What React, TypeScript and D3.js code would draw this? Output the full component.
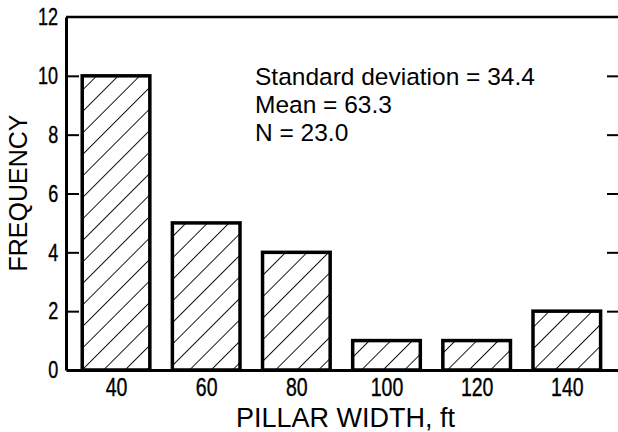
import { useEffect, useRef } from 'react';
import { scaleLinear, select, axisLeft, axisRight, axisBottom, range } from 'd3';

const widths = [40, 60, 80, 100, 120, 140];
const frequency = [10, 5, 4, 1, 1, 2];
const yTicks = [0, 2, 4, 6, 8, 10, 12];
const statLines = ['Standard deviation = 34.4', 'Mean = 63.3', 'N = 23.0'];

const W = 618;
const H = 432;
const left = 66;
const right = 620;
const top = 17;
const bottom = 370;
const binWidth = 15;

const sans = '"Liberation Sans", Arial, Helvetica, sans-serif';

export default function App() {
  const gLeft = useRef<SVGGElement>(null);
  const gRight = useRef<SVGGElement>(null);
  const gBottom = useRef<SVGGElement>(null);

  const x = scaleLinear().domain([28.9, 151.8]).range([left, right]);
  const y = scaleLinear().domain([0, 12]).range([bottom, top]);

  useEffect(() => {
    // tick digits in the original are tall and condensed, so squeeze them
    const l = select(gLeft.current!);
    l.call(axisLeft(y).tickValues(yTicks).tickSize(-13).tickPadding(0).tickSizeOuter(0));
    l.select('.domain').attr('stroke-width', 3);
    l.selectAll('.tick line').attr('stroke-width', 2);
    l.selectAll('.tick text')
      .attr('font-family', sans)
      .attr('font-size', 24)
      .attr('fill', '#000')
      .attr('stroke', '#000')
      .attr('stroke-width', 0.4)
      .attr('x', -10.5)
      .attr('transform', 'scale(0.75,1)');
    l.selectAll('.tick').filter((d: any) => d === 0 || d === 12).select('line').remove();

    const r = select(gRight.current!);
    r.call(axisRight(y).tickValues(range(2, 12, 2)).tickSize(-13).tickSizeOuter(0).tickFormat(() => ''));
    r.select('.domain').attr('stroke-width', 3);
    r.selectAll('.tick line').attr('stroke-width', 2);

    const b = select(gBottom.current!);
    b.call(axisBottom(x).tickValues(widths).tickSize(0).tickPadding(8).tickSizeOuter(0));
    b.select('.domain').attr('stroke-width', 3);
    b.selectAll('.tick text')
      .attr('font-family', sans)
      .attr('font-size', 26)
      .attr('fill', '#000')
      .attr('stroke', '#000')
      .attr('stroke-width', 0.4)
      .attr('transform', 'scale(0.75,1)');
  });

  return (
    <svg width={W} height={H} style={{ position: 'absolute', left: 0, top: 0, background: '#fff' }}>
      <defs>
        <pattern id="hatch" patternUnits="userSpaceOnUse" width={15.2} height={15.2} patternTransform="rotate(45)">
          <line x1={0} y1={-2} x2={0} y2={18} stroke="#000" strokeWidth={1.8} />
        </pattern>
      </defs>
      <rect width={W} height={H} fill="#fff" />
      <line x1={left} x2={right} y1={top} y2={top} stroke="#000" strokeWidth={2.5} />
      {widths.map((w, i) => (
        <rect
          key={w}
          x={x(w - binWidth / 2)}
          y={y(frequency[i])}
          width={x(w + binWidth / 2) - x(w - binWidth / 2)}
          height={y(0) - y(frequency[i])}
          fill="url(#hatch)"
          stroke="#000"
          strokeWidth={3.5}
        />
      ))}
      <g ref={gLeft} transform={`translate(${left},0)`} />
      <g ref={gRight} transform={`translate(${right},0)`} />
      <g ref={gBottom} transform={`translate(0,${bottom})`} />
      {statLines.map((s, i) => (
        <text key={s} x={255} y={85 + i * 28} fontFamily={sans} fontSize={24.5} fill="#000">
          {s}
        </text>
      ))}
      <text x={345.5} y={427} textAnchor="middle" fontFamily={sans} fontSize={27} fill="#000">
        PILLAR WIDTH, ft
      </text>
      <text
        transform="translate(27,193) rotate(-90)"
        textAnchor="middle"
        fontFamily={sans}
        fontSize={25}
        fill="#000"
      >
        FREQUENCY
      </text>
    </svg>
  );
}
